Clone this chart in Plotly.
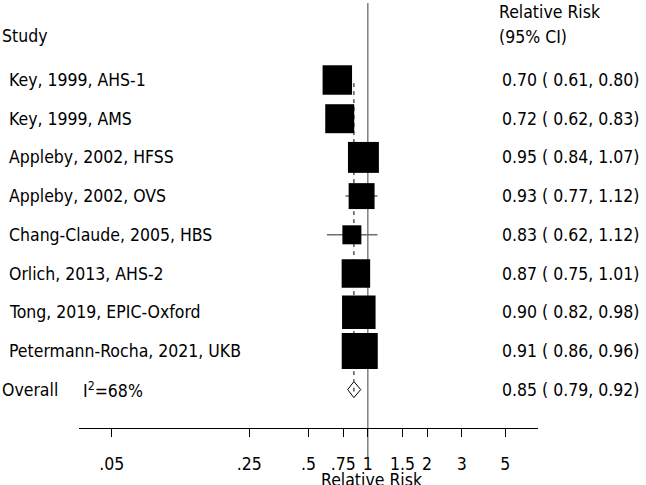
import plotly.graph_objects as go

# ---- data ----
studies = ["Key, 1999, AHS-1", "Key, 1999, AMS", "Appleby, 2002, HFSS", "Appleby, 2002, OVS",
           "Chang-Claude, 2005, HBS", "Orlich, 2013, AHS-2", "Tong, 2019, EPIC-Oxford",
           "Petermann-Rocha, 2021, UKB"]
rr = [0.70, 0.72, 0.95, 0.93, 0.83, 0.87, 0.90, 0.91]
ci_low = [0.61, 0.62, 0.84, 0.77, 0.62, 0.75, 0.82, 0.86]
ci_high = [0.80, 0.83, 1.07, 1.12, 1.12, 1.01, 0.98, 0.96]
weights = [12.5, 12.1, 13.8, 9.7, 5.2, 11.7, 16.2, 18.7]
overall = 0.85
overall_low = 0.79
overall_high = 0.92
i2_label = "I<sup>2</sup>=68%"
tick_vals = [0.05, 0.25, 0.5, 0.75, 1, 1.5, 2, 3, 5]
tick_text = [".05", ".25", ".5", ".75", "1", "1.5", "2", "3", "5"]

FONT = "DejaVu Sans Condensed, DejaVu Sans, sans-serif"
FS = 17.5

n = len(studies)
rows = [-i for i in range(n)]
overall_row = -n

fig = go.Figure()

# dashed overall line
fig.add_trace(go.Scatter(x=[overall, overall], y=[rows[0] - 0.08, overall_row + 0.21],
                         mode="lines", line=dict(color="black", width=1, dash="4px,4px"),
                         hoverinfo="skip", showlegend=False))

# CI lines
cx, cy = [], []
for lo, hi, r in zip(ci_low, ci_high, rows):
    cx += [lo, hi, None]
    cy += [r, r, None]
fig.add_trace(go.Scatter(x=cx, y=cy, mode="lines", line=dict(color="#6e6e6e", width=1.5),
                         hoverinfo="skip", showlegend=False))

# boxes
sizes = [8.33 * w ** 0.5 for w in weights]
fig.add_trace(go.Scatter(x=rr, y=rows, mode="markers",
                         marker=dict(symbol="square", size=sizes, color="black", opacity=1,
                                     line=dict(width=0)),
                         cliponaxis=False, showlegend=False))

# diamond
h = 0.207
fig.add_trace(go.Scatter(x=[overall_low, overall, overall_high, overall, overall_low],
                         y=[overall_row, overall_row + h, overall_row, overall_row - h, overall_row],
                         mode="lines", fill="toself", fillcolor="white",
                         line=dict(color="black", width=1), showlegend=False))
fig.add_trace(go.Scatter(x=[overall, overall], y=[overall_row - 0.05, overall_row + 0.05],
                         mode="lines", line=dict(color="black", width=1), showlegend=False))

W, H = 646, 485

def py(p):
    return (H - p) / H

def px(p):
    return p / W

ann = []
def text(x, y, s, yref="y", anchor="left"):
    ann.append(dict(x=x, y=y, xref="paper", yref=yref, text=s, showarrow=False,
                    xanchor=anchor, yanchor="middle", font=dict(family=FONT, size=FS, color="black")))

text(px(0), py(36), "Study", yref="paper")
text(px(497), py(12), "Relative Risk", yref="paper")
text(px(497), py(37), "(95% CI)", yref="paper")
for s, r, v, lo, hi in zip(studies, rows, rr, ci_low, ci_high):
    text(px(7), r, s)
    text(px(500), r, f"{v:.2f} ( {lo:.2f}, {hi:.2f})")
text(px(0), overall_row, "Overall")
text(px(81), overall_row, i2_label)
text(px(500), overall_row, f"{overall:.2f} ( {overall_low:.2f}, {overall_high:.2f})")
text(px(372), py(480), "Relative Risk", yref="paper", anchor="center")

fig.update_layout(
    width=W, height=H, margin=dict(l=0, r=0, t=0, b=0),
    plot_bgcolor="white", paper_bgcolor="white",
    annotations=ann,
    shapes=[dict(type="line", xref="x", yref="paper", x0=1, x1=1, y0=py(458), y1=py(3),
                 line=dict(color="#808080", width=1.5), layer="below")],
    xaxis=dict(type="log", domain=[px(79), px(538)], range=[-1.4675, 0.8648],
               showgrid=False, zeroline=False, showline=True, linecolor="black", linewidth=1,
               ticks="outside", ticklen=8, tickcolor="black", tickwidth=1,
               tickvals=tick_vals, ticktext=tick_text, ticklabelstandoff=12,
               tickfont=dict(family=FONT, size=FS, color="black")),
    yaxis=dict(visible=False, domain=[py(428), 1], range=[-(428 - 80) / 38.7, 80 / 38.7]),
)

fig.write_html("out.html", config={"displayModeBar": False},
               post_script="document.body.style.margin='0';")
